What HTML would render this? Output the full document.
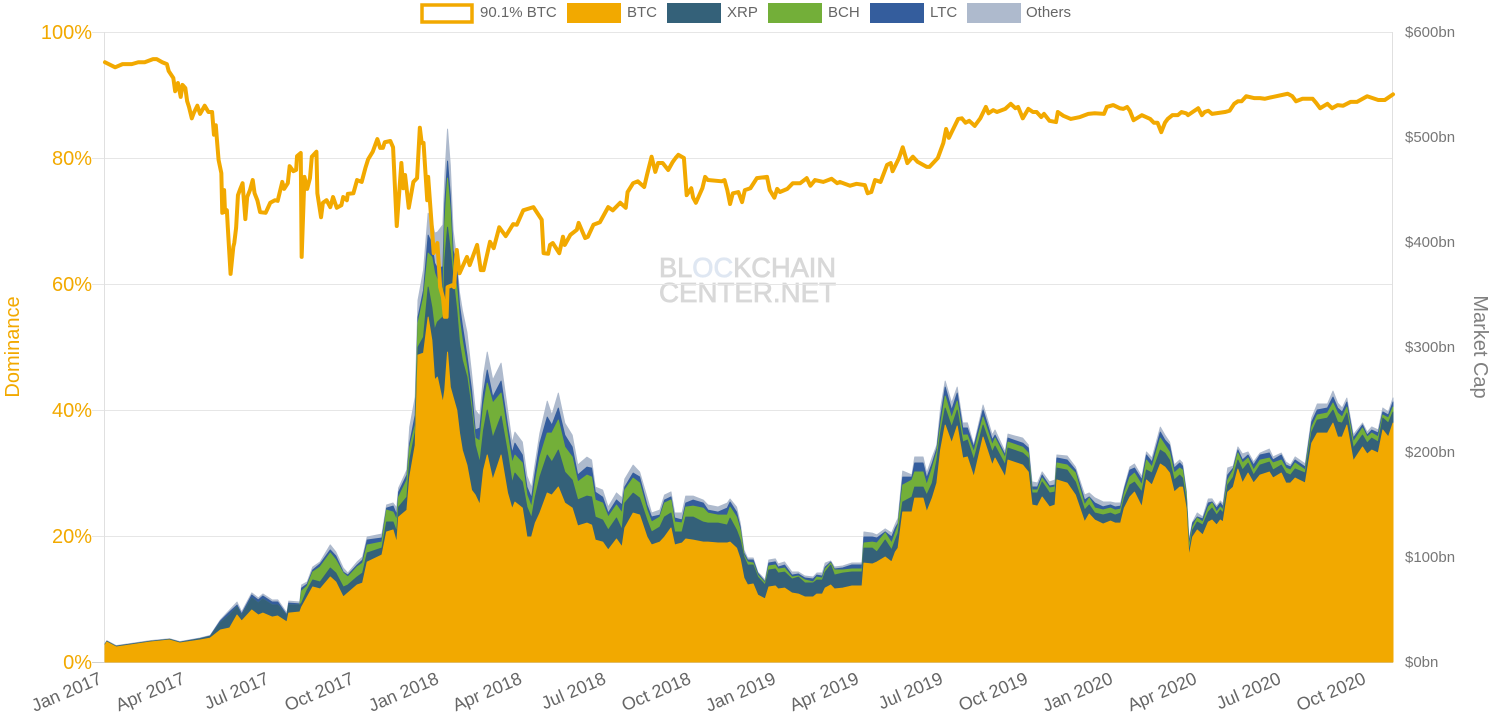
<!DOCTYPE html>
<html lang="en">
<head>
<meta charset="utf-8">
<title>Bitcoin dominance and market cap</title>
<style>
html,body{margin:0;padding:0;background:#fff;width:1499px;height:727px;overflow:hidden}
svg{display:block;font-family:"Liberation Sans",sans-serif}
</style>
</head>
<body>
<svg id="chart" width="1499" height="727" viewBox="0 0 1499 727" xmlns="http://www.w3.org/2000/svg">
  <g font-size="28" stroke-width="0.8">
    <text x="659" y="277" fill="#d8d8d8" stroke="#d8d8d8" textLength="177" lengthAdjust="spacingAndGlyphs">BL<tspan fill="#dfe7f2" stroke="#dfe7f2">OC</tspan>KCHAIN</text>
    <text x="659" y="302" fill="#d8d8d8" stroke="#d8d8d8" textLength="177" lengthAdjust="spacingAndGlyphs">CENTER.NET</text>
  </g>
  <g id="grid"></g>
  <g id="areas"></g>
  <path id="domLine" fill="none" stroke="#f2a900" stroke-width="4" stroke-linejoin="round" stroke-linecap="round"></path>
  <g id="labels"></g>
  <text transform="translate(19,347) rotate(-90)" text-anchor="middle" font-size="20" fill="#f2a900">Dominance</text>
  <text transform="translate(1474,347) rotate(90)" text-anchor="middle" font-size="20" fill="#808080">Market Cap</text>
  <g font-size="15" fill="#666666">
    <g>
      <rect x="422" y="5" width="50" height="17" fill="#ffffff" stroke="#f2a900" stroke-width="3.5"></rect>
      <text x="480" y="17">90.1% BTC</text>
    </g>
    <g>
      <rect x="567" y="3" width="54" height="20" fill="#f2a900"></rect>
      <text x="627" y="17">BTC</text>
    </g>
    <g>
      <rect x="667" y="3" width="54" height="20" fill="#346179"></rect>
      <text x="727" y="17">XRP</text>
    </g>
    <g>
      <rect x="768" y="3" width="54" height="20" fill="#73af39"></rect>
      <text x="828" y="17">BCH</text>
    </g>
    <g>
      <rect x="870" y="3" width="54" height="20" fill="#345d9d"></rect>
      <text x="930" y="17">LTC</text>
    </g>
    <g>
      <rect x="967" y="3" width="54" height="20" fill="#aebacd"></rect>
      <text x="1026" y="17">Others</text>
    </g>
  </g>
</svg>
<script>
const dominanceTicks = [0, 20, 40, 60, 80, 100];
const capTicks = [0, 100, 200, 300, 400, 500, 600];
const dateLabels = ["Jan 2017","Apr 2017","Jul 2017","Oct 2017","Jan 2018","Apr 2018","Jul 2018","Oct 2018","Jan 2019","Apr 2019","Jul 2019","Oct 2019","Jan 2020","Apr 2020","Jul 2020","Oct 2020"];
const dateLabelDays = [0,90,181,273,365,455,546,638,730,820,911,1003,1095,1186,1277,1369];

const capDays = [
0,2,12,27,49,70,81,103,114,125,
135,143,148,159,166,171,181,187,197,199,
211,213,219,225,233,244,250,258,263,273,
279,284,300,305,312,316,318,327,330,336,
339,345,350,354,357,360,366,368,371,374,
377,381,384,387,392,397,401,406,410,414,
420,429,436,441,444,452,457,462,466,471,
479,484,491,498,506,512,522,527,531,539,
545,554,560,563,572,579,587,592,601,606,
613,617,625,629,637,648,653,664,674,677,
684,688,692,696,702,707,715,719,726,729,
736,744,751,758,767,771,777,780,786,790,
799,809,820,822,831,836,845,852,856,859,
864,874,877,886,890,896,901,905,910,917,
923,929,934,941,951,961,964,975,978,994,
1000,1004,1010,1015,1023,1029,1031,1042,1051,1061,
1066,1072,1081,1089,1094,1100,1104,1110,1115,1123,
1128,1134,1143,1148,1153,1158,1164,1167,1171,1174,
1178,1183,1189,1195,1199,1204,1208,1211,1216,1222,
1227,1232,1238,1244,1251,1261,1265,1274,1279,1284,
1289,1300,1307,1313,1324,1330,1335,1340,1345,1352,
1362,1367,1372,1379,1384,1390,1395];

const btcCap = [
16.2,19,14.3,16.2,19,20.9,18.1,20.9,22.8,30.5,
32.4,44.7,39,49.5,44.7,46.6,42.8,43.8,38,46.6,
47.6,52.4,61.9,71.4,69.5,80.9,76.2,61.9,65.7,73.3,
75.2,95.2,101.9,123.8,125.7,113.3,138,144.7,176.1,206.6,
292.3,294.2,328.4,306.5,268.5,271.3,246.6,259,295.1,261.8,
252.3,239.9,218,201.8,187.5,163.7,159,149.5,182.8,197.1,
173.3,197.1,160.9,145.7,152.3,146.6,119,119,132.3,141.8,
160.9,159,166.6,151.4,146.6,129.5,132.3,130.4,116.1,114.2,
106.6,117.1,109.5,127.6,141.8,140,119,111.4,114.2,119,
127.6,111.4,113.3,117.1,116.1,114.2,114.2,113.3,113.3,114.2,
108.5,98.1,80,73.3,74.3,63.8,60,71.4,72.4,69.5,
70.4,65.7,64.7,61.9,61.9,64.7,64.7,70.4,73.3,69.5,
70.4,72.4,72.4,94.2,93.3,95.2,100,95.2,104.7,108.5,
142.8,142.8,156.1,156.1,142.8,156.1,170.4,201.8,225.6,208.5,
224.7,194.2,195.2,176.1,214.2,187.5,194.2,176.1,192.3,187.5,
180.9,149.5,148.5,157.1,147.6,149.5,173.3,170.4,159,133.3,
140.9,135.2,131.4,134.2,132.3,132.3,146.6,157.1,161.8,147.6,
173.3,168.5,188.5,185.6,179.9,161.8,166.6,166.6,146.6,100,
119,125.7,120.9,133.3,135.2,130.4,135.2,133.3,161.8,166.6,
183.7,170.4,179.9,170.4,178,180.9,175.2,179.9,170.4,170.4,
175.2,170.4,208.5,218,218,227.5,214.2,214.2,225.6,191.4,
204.7,198,201.8,199,220.9,214.2,227.5];

const xrpCap = [
.5,.5,.5,.5,.5,.5,.5,1,1.5,6.7,
12.4,7.6,4.8,11.4,11.4,13.3,11.4,10.5,5.7,7.6,
6.7,3.8,6.7,6.7,6.7,8.6,8.6,9.5,7.6,7.6,
9.5,8.6,6.7,9.5,7.6,10.5,9.5,12.4,16.2,12.4,
7.6,15.2,28.6,31.4,47.6,52.4,82.1,123.8,119,130.4,
114.2,95.2,85.7,85.7,83.8,76.2,47.6,40,38,42.8,
40,37.1,38.1,24.8,27.6,24.8,28.6,18.1,24.8,34.3,
36.2,31.4,35.2,29.5,26.7,24.8,25.7,26.7,21.9,20.9,
19,20,16.2,23.8,19,16.2,16.2,12.4,14.3,19,
14.3,12.4,10.5,20.9,21.9,19,18.1,19,17.1,22.8,
17.1,18.1,20,19,18.1,17.1,13.3,16.2,16.2,15.2,
15.2,13.3,16.2,13.3,13.3,13.3,13.3,15.2,19,13.3,
14.3,13.3,13.3,14.3,15.2,9.5,16.2,11.4,11.4,14.3,
9.5,14.3,10.5,10.5,16.2,14.3,21.9,16.2,16.2,15.2,
15.2,15.2,16.2,16.2,11.4,12.4,11.4,11.4,11.4,11.4,
13.3,11.4,12.4,14.3,13.3,12.4,11.4,12.4,12.4,11.4,
8.6,6.7,8.6,7.6,7.6,9.5,9.5,11.4,9.5,14.3,
9.5,11.4,13.3,13.3,12.4,11.4,11.4,8.6,7.6,3.8,
6.7,7.6,9.5,9.5,11.4,9.5,9.5,8.6,6.7,9.5,
8.6,12.4,9.5,7.6,9.5,9.5,7.6,7.6,9.5,7.6,
8.6,9.5,10.5,12.4,14.3,12.4,14.3,13.3,11.4,12.4,
11.4,10.5,11.4,10.5,11.4,13.3,10.5];

const bchCap = [
0,0,0,0,0,0,0,0,0,0,
0,0,0,0,0,0,0,0,0,0,
0,11.4,3.8,7.6,14.3,14.3,12.4,13.3,7.6,9.5,
9.5,7.6,5.7,11.4,9.5,11.4,9.5,16.2,12.4,6.7,
22.8,38.1,32.4,47.6,54.3,40,19,35.2,46.7,38.1,
9.5,21.9,21.9,19,9.5,6.7,6.7,20.9,23.8,25.7,
33.3,21.9,17.1,19,17.1,18.1,11.4,10.5,14.3,19,
20.9,27.6,28.6,23.8,21.9,17.1,20,19,16.2,16.2,
12.4,12.4,16.2,12.4,14.3,14.3,9.5,9.5,9.5,13.3,
12.4,9.5,8.6,9.5,10.5,13.3,9.5,7.6,9.5,10.5,
12.4,9.5,1.9,2.9,1.9,1.9,1.9,3.8,3.8,3.8,
3.8,1.9,1,2.9,1,2.9,1.9,2.9,1.9,4.8,
2.9,2.9,2.9,4.8,5.7,8.6,6.7,6.7,6.7,7.6,
16.2,16.2,14.3,14.3,9.5,14.3,7.6,7.6,11.4,8.6,
8.6,6.7,4.8,7.6,7.6,6.7,7.6,6.7,5.7,5.7,
4.8,2.9,2.9,3.8,4.8,4.8,4.8,4.8,8.6,4.8,
6.7,4.8,4.8,4.8,4.8,3.8,4.8,7.6,8.6,6.7,
9.5,5.7,11.4,7.6,7.6,6.7,6.7,7.6,4.8,5.7,
2.9,3.8,2.9,4.8,4.8,2.9,2.9,2.9,4.8,6.7,
6.7,6.7,4.8,4.8,4.8,3.8,6.7,4.8,4.8,4.8,
5.7,2.9,4.8,4.8,4.8,6.7,8.6,5.7,5.7,5.7,
6.7,5.7,4.8,4.8,2.9,4.8,4.8];

const ltcCap = [
.3,.3,.3,.3,.3,.3,.3,.5,.5,1.9,
2.9,1.9,1.9,2.9,2.9,2.9,2.9,2.9,1,1.9,
1,2.9,1.9,1.9,2.9,2.9,3.8,1,1.9,1.9,
2.9,4.8,3.8,1.9,5.7,4.8,4.8,4.8,3.8,9.5,
5.7,6.7,17.1,13.3,9.5,11.4,28.6,19,16.2,14.3,
16.2,19,14.3,14.3,11.4,12.4,7.6,12.4,12.4,12.4,
5.7,11.4,9.5,9.5,11.4,7.6,7.6,8.6,9.5,13.3,
15.2,7.6,11.4,11.4,9.5,6.7,7.6,8.6,7.6,5.7,
3.8,4.8,7.6,2.9,4.8,5.7,4.8,4.8,1.9,2.9,
2.9,3.8,2.9,3.8,5.7,4.8,2.9,2.9,6.7,4.8,
4.8,2.9,1.9,1.9,2.9,1.9,1,2.9,2.9,1.9,
2.9,1.9,1.9,1.9,2.9,1.9,1.9,1.9,1,1,
1.9,3.8,3.8,5.7,4.8,4.8,1,5.7,4.8,1.9,
7.6,2.9,8.6,8.6,6.7,4.8,3.8,7.6,8.6,7.6,
7.6,6.7,6.7,4.8,6.7,4.8,2.9,2.9,3.8,3.8,
4.8,2.9,2.9,2.9,1.9,1.9,4.8,4.8,2.9,4.8,
1,4.8,2.9,2.9,2.9,2.9,3.8,6.7,4.8,4.8,
4.8,4.8,5.7,4.8,6.7,4.8,4.8,3.8,2.9,3.8,
3.8,1,2.9,3.8,1,3.8,3.8,2.9,4.8,1.9,
2.9,2.9,2.9,4.8,4.8,4.8,2.9,4.8,2.9,2.9,
2.9,2.9,4.8,4.8,4.8,5.7,4.8,4.8,4.8,3.8,
2.9,1.9,2.9,3.8,2.9,2.9,4.8];

const othersCap = [
.5,.5,.5,.5,.5,.5,.5,.5,.5,1,
1.9,2.9,1.9,2,2,2,2,2,1.9,1.9,
1.9,2.9,1.9,2.9,1.9,4.8,3.8,3.8,1.9,2.9,
2.9,2.9,3.8,2.9,2.9,6.7,3.8,4.8,15.2,17.1,
16.2,19,20.9,22.8,28.6,34.3,40,24.8,30.5,28.6,
19,6.7,11.4,14.3,21.9,16.2,19,11.4,16.2,17.1,
16.2,17.1,14.3,9.5,10.5,12.4,10.5,9.5,8.6,9.5,
15.2,9.5,14.3,11.4,11.4,9.5,9.5,7.6,4.8,6.7,
5.7,6.7,6.7,7.6,7.6,4.8,7.6,3.8,4.8,4.8,
4.8,4.8,6.7,6.7,3.8,2.9,4.8,4.8,4.8,2.9,
4.8,3.8,2.9,1.9,1.9,1,1.9,2.9,2.9,2.9,
2.9,2.9,1.9,1.9,1.9,1.9,2.9,3.8,1,1.9,
1.9,1.9,1.9,4.8,3.8,2.9,2.9,3.8,3.8,4.8,
5.7,1.9,5.7,5.7,4.8,5.7,2.9,8.6,5.7,6.7,
5.7,4.8,4.8,1.9,4.8,4.8,4.8,2.9,3.8,4.8,
2.9,4.8,3.8,2.9,3.8,4.8,2.9,3.8,2.9,4.8,
3.8,4.8,4.8,2.9,3.8,2.9,1.9,2.9,3.8,2.9,
2.9,3.8,4.8,4.8,2.9,2.9,2.9,2.9,1.9,2.9,
1,3.8,1.9,3.8,2.9,1.9,1.9,2.9,6.7,1.9,
2.9,5.7,2.9,2.9,1.9,3.8,2.9,1.9,2.9,1.9,
2.9,2.9,3.8,5.7,3.8,5.7,4.8,3.8,3.8,2.9,
1.9,2.9,2.9,2.9,3.8,2.9,3.8];

const dominanceDays = [
0,11,19,29,36,43,52,56,62,67,69,74,76,79,82,84,87,89,91,94,
96,100,103,108,112,116,118,120,121,123,126,127,129,130,132,133,136,139,140,142,
144,146,149,152,154,157,160,162,165,168,174,179,184,187,192,194,198,200,204,207,
208,212,213,216,219,222,224,229,230,234,236,240,244,247,251,256,258,262,263,269,
273,278,282,285,290,295,298,301,303,309,312,316,321,323,325,329,334,338,341,343,
345,349,350,354,356,360,363,366,368,370,371,376,378,381,384,392,395,403,407,410,
417,421,427,434,442,446,453,464,473,475,480,482,485,492,496,498,504,511,513,520,
523,529,536,545,550,558,564,566,572,577,584,587,592,596,599,604,610,615,618,621,
627,630,635,637,640,647,650,653,668,671,674,677,680,686,690,693,699,706,717,720,
725,728,731,739,745,753,760,764,769,778,787,793,796,807,814,823,826,830,834,840,
847,851,853,860,864,869,875,880,890,893,902,908,911,914,918,924,928,932,936,942,
948,954,957,962,966,975,981,986,989,994,1000,1005,1009,1014,1017,1023,1030,1032,1038,1046,
1056,1065,1072,1082,1085,1092,1099,1103,1107,1110,1114,1123,1132,1136,1140,1144,1148,1151,1156,1162,
1166,1171,1173,1178,1184,1188,1191,1195,1199,1213,1218,1223,1227,1231,1236,1245,1251,1256,1265,1281,
1286,1290,1297,1308,1312,1316,1324,1329,1335,1341,1349,1356,1367,1379,1386,1394,1395];

const dominanceValues = [
95.2,94.4,94.9,94.9,95.2,95.2,95.7,95.7,95.2,94.9,93.8,92.7,90.6,91.9,89.7,91.6,91.1,89,88.1,86.3,
87.1,88.3,87,88.3,87.3,87.3,83.7,85.2,83.3,79.7,77.6,71.3,74.9,71.4,71.7,69,61.6,65.9,66.5,68.9,
74.1,74.9,76,70.3,73.8,74.9,76.5,74.4,73.3,71.4,71.3,72.9,73.3,73.2,76.2,75.1,76,78.7,77.9,78.1,
80.3,80.8,64.3,77,75.1,76.8,80.2,81,74.4,70.6,72.9,73.3,72.2,73.8,72.1,72.5,73.8,73.3,74.3,74.4,
76.5,76.2,78.4,79.8,81,83,81.6,81.6,82.5,82.7,81.7,69.2,79.2,75.2,77.3,72.1,76.2,76.8,84.8,82.4,
82.4,73.3,77,69,64.9,66.5,59.5,57.9,54.8,54.8,59.5,59.8,59.5,65.4,61.7,64.3,63,66.2,62.2,62.2,
66.7,65.7,69,67.6,69.5,69.4,71.7,72.2,70.2,64.9,64.8,66.2,66.5,64.9,67.5,66.2,67.8,68.6,69.7,67.3,
67.5,69.4,69.8,72.2,71.7,72.9,72.1,74.6,76,76.3,75.4,77.3,80.2,77.8,79.2,79.2,78.1,79.4,80,80.5,
80,74.1,75.2,73.7,72.9,75.2,77,76.5,76.3,76.5,74.9,72.7,74.4,74.6,73,74.9,75.2,76.8,77,74.9,
73.7,75.1,74.6,75.1,76,76,76.8,75.6,76.5,76.2,76.7,76,76.2,75.6,75.9,75.7,74.4,74.6,76.5,76.2,
78.9,79.2,77.9,80,81.7,79.2,80.2,79.4,78.6,78.6,80,82.4,84.6,83.2,84.4,86.2,86.3,85.6,85.9,85.1,
86.3,88.1,87.1,87.6,87.3,87.8,88.6,87.9,88.1,86.3,87.8,87.3,87.3,86.5,87,85.9,85.7,87.3,86.7,86.2,
86.5,87,87.1,87,88.1,88.4,87.9,87.8,88.1,87.5,86,86.8,86.2,85.6,85.6,84.1,85.6,86.2,86.8,86.8,
87.3,87.1,86.8,87.3,87.9,86.8,87.3,87.5,87,87.3,87.5,88.6,89,89,89.8,89.5,89.5,89.4,89.7,90.2,
89.8,89,89.4,89.4,88.7,87.9,88.6,87.9,88.4,88.3,88.9,88.9,89.8,89.2,89.2,90,90.1];

const SVGNS = 'http://www.w3.org/2000/svg';
const plotLeft = 105, plotRight = 1393, plotTop = 32, plotBottom = 662;
const maxDay = 1395, maxCap = 600, maxDom = 100;
function xScale(day) { return plotLeft + day / maxDay * (plotRight - plotLeft); }
function capScale(v) { return plotBottom - v / maxCap * (plotBottom - plotTop); }
function domScale(v) { return plotBottom - v / maxDom * (plotBottom - plotTop); }

const grid = document.getElementById('grid');
dominanceTicks.forEach(function (t) {
  const line = document.createElementNS(SVGNS, 'line');
  
  
  line.setAttribute('x1', plotLeft - 13);
  line.setAttribute('x2', plotRight);
  line.setAttribute('y1', domScale(t) + 0.5);
  line.setAttribute('y2', domScale(t) + 0.5);
  line.setAttribute('stroke', t === 0 ? '#d0d0d0' : '#e6e6e6');
  line.setAttribute('stroke-width', '1');
  grid.appendChild(line);
});
[plotLeft, plotRight].forEach(function (x) {
  const line = document.createElementNS(SVGNS, 'line');
  
  
  line.setAttribute('x1', x - 0.5);
  line.setAttribute('x2', x - 0.5);
  line.setAttribute('y1', plotTop);
  line.setAttribute('y2', plotBottom);
  line.setAttribute('stroke', '#e0e0e0');
  line.setAttribute('stroke-width', '1');
  grid.appendChild(line);
});

const seriesList = [
  { key: 'btc', values: btcCap, color: '#f2a900' },
  { key: 'xrp', values: xrpCap, color: '#346179' },
  { key: 'bch', values: bchCap, color: '#73af39' },
  { key: 'ltc', values: ltcCap, color: '#345d9d' },
  { key: 'others', values: othersCap, color: '#aebacd' }
];
const areas = document.getElementById('areas');
let baseline = capDays.map(function () { return 0; });
seriesList.forEach(function (s) {
  const top = baseline.map(function (b, i) { return b + s.values[i]; });
  let d = '';
  capDays.forEach(function (day, i) {
    d += (i ? 'L' : 'M') + xScale(day).toFixed(2) + ' ' + capScale(top[i]).toFixed(2);
  });
  for (let i = capDays.length - 1; i >= 0; i--) {
    d += 'L' + xScale(capDays[i]).toFixed(2) + ' ' + capScale(baseline[i]).toFixed(2);
  }
  d += 'Z';
  const path = document.createElementNS(SVGNS, 'path');
  
  
  path.setAttribute('d', d);
  path.setAttribute('fill', s.color);
  path.setAttribute('stroke', s.color);
  path.setAttribute('stroke-width', '1');
  path.setAttribute('stroke-linejoin', 'round');
  areas.insertBefore(path, areas.firstChild);
  baseline = top;
});

let lineD = '';
dominanceDays.forEach(function (day, i) {
  lineD += (i ? 'L' : 'M') + xScale(day).toFixed(2) + ' ' + domScale(dominanceValues[i]).toFixed(2);
});
document.getElementById('domLine').setAttribute('d', lineD);

const labels = document.getElementById('labels');
dominanceTicks.forEach(function (t) {
  const el = document.createElementNS(SVGNS, 'text');
  
  
  el.setAttribute('x', plotLeft - 13);
  el.setAttribute('y', domScale(t) + 7);
  el.setAttribute('text-anchor', 'end');
  el.setAttribute('font-size', '20');
  el.setAttribute('fill', '#f2a900');
  el.textContent = t + '%';
  labels.appendChild(el);
});
capTicks.forEach(function (t) {
  const el = document.createElementNS(SVGNS, 'text');
  
  
  el.setAttribute('x', 1405);
  el.setAttribute('y', capScale(t) + 5);
  el.setAttribute('font-size', '15');
  el.setAttribute('fill', '#777777');
  el.textContent = '$' + t + 'bn';
  labels.appendChild(el);
});
dateLabels.forEach(function (label, i) {
  const el = document.createElementNS(SVGNS, 'text');
  
  
  el.setAttribute('transform', 'translate(' + (xScale(dateLabelDays[i]) - 2).toFixed(1) + ',683) rotate(-23)');
  el.setAttribute('text-anchor', 'end');
  el.setAttribute('font-size', '18');
  el.setAttribute('fill', '#666666');
  el.textContent = label;
  labels.appendChild(el);
});
</script>
</body>
</html>
